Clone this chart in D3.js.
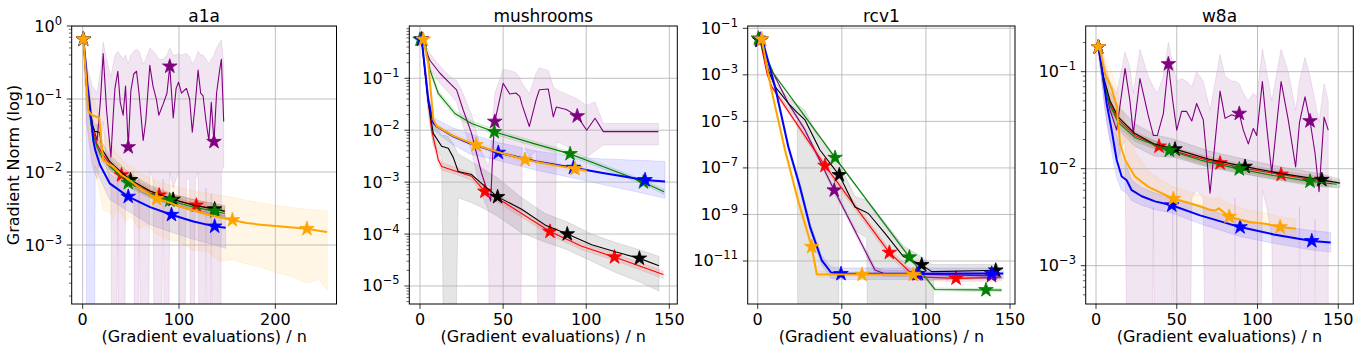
<!DOCTYPE html>
<html>
<head>
<meta charset="utf-8">
<script src="https://cdn.jsdelivr.net/npm/d3@7"></script>
<style>
  body { margin: 0; background: #fff; }
  svg { display: block; font-family: "DejaVu Sans", sans-serif; }
</style>
</head>
<body>
<script>
// rows are [x, mean, lower, upper]; series order: purple, red, black, green, blue, orange
const seriesKeys = ["purple", "red", "black", "green", "blue", "orange"];

// ---------- a1a ----------
const a1aXTicks = [0, 100, 200];
const a1aYTicks = [0, -1, -2, -3];
const a1aPurple = [
  [0.7, 0.66, 0.5, 0.75], [3.8, 0.15, 0.05, 0.3], [10, 0.045, 0.012, 0.15], [15, 0.027, 0.008, 0.12],
  [18.5, 0.098, 0.02, 0.25], [21.3, 0.42, 0.05, 0.6], [24.8, 0.07, 0.012, 0.35], [29.3, 0.016, 0.006, 0.2],
  [31.7, 0.06, 1e-9, 0.3], [33.5, 0.14, 1e-9, 0.4], [36.5, 0.24, 0.01, 0.45], [39, 0.09, 1e-9, 0.4],
  [42, 0.06, 1e-9, 0.35], [44.5, 0.15, 0.008, 0.4], [47.3, 0.022, 0.006, 0.3], [50, 0.13, 0.008, 0.4],
  [53, 0.22, 0.01, 0.45], [55.9, 0.24, 1e-9, 0.48], [58.5, 0.12, 0.008, 0.45], [62.8, 0.027, 1e-9, 0.3],
  [65.5, 0.05, 1e-9, 0.35], [69.7, 0.29, 0.01, 0.5], [73, 0.15, 0.008, 0.45], [76.6, 0.098, 1e-9, 0.4],
  [79, 0.06, 1e-9, 0.35], [83.5, 0.085, 0.008, 0.35], [87.5, 0.12, 1e-9, 0.4], [90.4, 0.28, 0.01, 0.5],
  [94, 0.055, 0.006, 0.4], [97, 0.14, 0.008, 0.4], [99.5, 0.17, 0.01, 0.42], [102.6, 0.12, 1e-9, 0.4],
  [107.7, 0.14, 0.008, 0.42], [111, 0.1, 0.008, 0.38], [113.8, 0.035, 1e-9, 0.3], [117, 0.09, 0.008, 0.35],
  [119.8, 0.25, 0.01, 0.45], [122.5, 0.12, 1e-9, 0.4], [125, 0.11, 1e-9, 0.4], [128, 0.05, 0.006, 0.35],
  [131, 0.027, 1e-9, 0.3], [133.5, 0.09, 0.005, 0.35], [136.3, 0.026, 1e-9, 0.4], [139, 0.12, 1e-9, 0.5],
  [142.2, 0.25, 1e-9, 0.6], [144, 0.35, 0.01, 0.65], [146.4, 0.049, 0.012, 0.3]
];
const a1aRed = [
  [0.7, 0.66, 0.6, 0.72], [5, 0.12, 0.1, 0.14], [10, 0.04, 0.034, 0.047], [15, 0.024, 0.02, 0.029],
  [20, 0.018, 0.015, 0.021], [28, 0.013, 0.011, 0.0155], [40.3, 0.0091, 0.0078, 0.0106], [60, 0.0062, 0.0053, 0.0072],
  [79.4, 0.0048, 0.0041, 0.0056], [100, 0.004, 0.0034, 0.0047], [118, 0.0035, 0.003, 0.0041], [147.5, 0.0029, 0.0025, 0.0034]
];
const a1aBlack = [
  [0.7, 0.66, 0.6, 0.72], [5, 0.13, 0.1, 0.16], [10, 0.045, 0.035, 0.055], [12.5, 0.036, 0.028, 0.045],
  [17.5, 0.035, 0.026, 0.044], [20.5, 0.02, 0.016, 0.025], [28, 0.014, 0.011, 0.017], [38, 0.0105, 0.0085, 0.013],
  [49.7, 0.0078, 0.0064, 0.0094], [70, 0.0055, 0.0046, 0.0066], [93.9, 0.0042, 0.0035, 0.005], [115, 0.0035, 0.0029, 0.0042],
  [137, 0.0031, 0.0026, 0.0037], [147.5, 0.0029, 0.0024, 0.0035]
];
const a1aGreen = [
  [0.7, 0.66, 0.6, 0.72], [5, 0.1, 0.085, 0.12], [10, 0.035, 0.03, 0.041], [15, 0.022, 0.019, 0.026],
  [20, 0.016, 0.014, 0.019], [28, 0.012, 0.0104, 0.014], [47.3, 0.0071, 0.0062, 0.0081], [70, 0.0051, 0.0044, 0.0058],
  [90.4, 0.0041, 0.0036, 0.0047], [115, 0.0033, 0.0029, 0.0038], [137, 0.0029, 0.0025, 0.0033], [147.5, 0.0027, 0.0024, 0.0031]
];
const a1aBlue = [
  [0.7, 0.66, 0.5, 0.8], [3.4, 0.28, 0.2, 0.36], [4.8, 0.16, 1e-9, 0.22], [6.8, 0.097, 1e-9, 0.13],
  [9, 0.05, 1e-9, 0.07], [11, 0.027, 1e-9, 0.04], [13, 0.02, 0.012, 0.028], [18, 0.0125, 0.008, 0.017],
  [28, 0.007, 0.0042, 0.0095], [47.3, 0.0046, 0.0029, 0.0063], [70, 0.0033, 0.0019, 0.0048], [92.2, 0.0026, 0.0015, 0.0039],
  [115, 0.0021, 0.0012, 0.0031], [137, 0.0018, 0.001, 0.0027], [148.5, 0.00173, 0.0009, 0.0025]
];
const a1aOrange = [
  [0.7, 0.66, 0.55, 0.75], [3, 0.25, 0.1, 0.4], [5.8, 0.07, 0.03, 0.2], [9.3, 0.06, 0.015, 0.11],
  [13, 0.058, 0.01, 0.09], [17.2, 0.055, 0.006, 0.06], [19.5, 0.025, 0.004, 0.045], [21.3, 0.0146, 0.003, 0.035],
  [28.3, 0.0125, 0.0028, 0.025], [31.7, 0.012, 0.0022, 0.022], [35, 0.0108, 0.0032, 0.018], [40.4, 0.0091, 0.0026, 0.015],
  [45, 0.0083, 0.0021, 0.013], [50, 0.0075, 0.0025, 0.012], [58, 0.0062, 0.0017, 0.01], [66, 0.0053, 0.0019, 0.0088],
  [76.7, 0.0043, 0.0014, 0.0076], [88, 0.0039, 0.0012, 0.0068], [100, 0.0034, 0.0011, 0.0062], [114.6, 0.003, 0.00085, 0.0056],
  [130, 0.0026, 0.0008, 0.0051], [142, 0.0024, 0.0006, 0.0048], [155.4, 0.0022, 0.00063, 0.0045], [170, 0.002, 0.00055, 0.0041],
  [185, 0.0019, 0.0005, 0.0038], [200, 0.00182, 0.00042, 0.0035], [215, 0.00175, 0.00038, 0.0033], [232.8, 0.00167, 0.0003, 0.0031],
  [245, 0.00157, 0.00034, 0.003], [253.8, 0.00151, 0.00024, 0.0029]
];
const a1aStars = [[0.7, 47.3, 90.4, 136.3], [0.7, 40.3, 79.4, 118], [0.7, 49.7, 93.9, 137],
                  [0.7, 47.3, 90.4, 137], [0.7, 47.3, 92.2, 137], [0.7, 76.7, 155.4, 232.8]];

// ---------- mushrooms ----------
const mushXTicks = [0, 50, 100, 150];
const mushYTicks = [-1, -2, -3, -4, -5];
const mushPurple = [
  [1, 0.56, 0.5, 0.62], [6, 0.22, 0.15, 0.3], [12, 0.125, 0.08, 0.17], [18, 0.08, 0.05, 0.11],
  [22, 0.06, 0.035, 0.09], [26, 0.0245, 0.012, 0.05], [31, 0.0087, 0.004, 0.02], [34, 0.0036, 0.0015, 0.009],
  [37, 0.0015, 0.0006, 0.004], [41, 0.0006, 0.0003, 0.002], [42.5, 0.00043, 1e-9, 0.004], [44, 0.005, 1e-9, 0.02],
  [45, 0.0147, 1e-9, 0.05], [50, 0.08, 1e-9, 0.15], [54, 0.05, 1e-9, 0.14], [57.7, 0.052, 1e-9, 0.13],
  [60, 0.045, 1e-9, 0.1], [61.5, 0.03, 0.006, 0.08], [65.8, 0.0118, 0.003, 0.05], [70, 0.04, 0.004, 0.13],
  [71.8, 0.06, 1e-9, 0.16], [77.2, 0.062, 1e-9, 0.14], [80.2, 0.018, 1e-9, 0.07], [82, 0.028, 0.006, 0.06],
  [88, 0.025, 0.005, 0.05], [94.6, 0.0187, 0.0035, 0.04], [100.3, 0.01, 0.003, 0.03], [105.3, 0.017, 0.004, 0.035],
  [110.3, 0.0094, 0.0052, 0.0135], [143.4, 0.0094, 0.0052, 0.0135]
];
const mushRed = [
  [1, 0.56, 0.5, 0.62], [4, 0.069, 0.055, 0.085], [7, 0.01, 0.008, 0.013], [11, 0.0027, 0.0022, 0.0033],
  [13, 0.002, 0.0017, 0.0024], [22, 0.0016, 0.0014, 0.0019], [31, 0.0013, 0.0011, 0.0015], [39, 0.00066, 0.00056, 0.00077],
  [51, 0.0004, 0.00034, 0.00047], [78.2, 0.000112, 9.5e-5, 0.00013], [97.3, 5.8e-5, 5e-5, 6.8e-5], [117, 3.6e-5, 3.1e-5, 4.2e-5],
  [146.4, 1.66e-5, 1.4e-5, 1.95e-5]
];
const mushBlack = [
  [1, 0.56, 0.5, 0.62], [5, 0.033, 0.02, 0.05], [8, 0.0087, 0.005, 0.014], [13, 0.0049, 0.003, 0.008],
  [15, 0.0047, 1e-9, 0.008], [17, 0.0045, 1e-9, 0.0075], [20, 0.003, 1e-9, 0.0055], [23, 0.0016, 0.0005, 0.0035],
  [31, 0.0014, 0.0004, 0.0025], [37, 0.00095, 0.00033, 0.0019], [46.7, 0.00052, 0.00022, 0.0012], [61.2, 0.0003, 0.000105, 0.0005],
  [75.2, 0.00015, 0.00007, 0.00025], [88.6, 0.0001, 0.00005, 0.00017], [103.3, 6.2e-5, 3e-5, 0.0001], [118, 4.5e-5, 1.8e-5, 6.8e-5],
  [132, 3.4e-5, 1.2e-5, 5e-5], [143.8, 2.45e-5, 8e-6, 3.7e-5]
];
const mushGreen = [
  [0, 0.56, 0.5, 0.62], [3, 0.5, 0.45, 0.56], [6, 0.145, 0.125, 0.165], [11, 0.051, 0.045, 0.058],
  [21, 0.021, 0.0185, 0.024], [31, 0.0135, 0.012, 0.0152], [44.7, 0.0093, 0.0083, 0.0104], [67, 0.0057, 0.0051, 0.0064],
  [90.3, 0.0035, 0.0031, 0.0039], [112, 0.0019, 0.0017, 0.0021], [134.4, 0.001, 0.0009, 0.0011], [146.8, 0.00065, 0.00058, 0.00073]
];
const mushBlue = [
  [1, 0.56, 0.5, 0.62], [5, 0.038, 0.03, 0.05], [8, 0.014, 0.011, 0.018], [10, 0.0118, 0.009, 0.016],
  [20, 0.0076, 0.0052, 0.011], [30, 0.0056, 0.0035, 0.0085], [47.1, 0.0037, 0.0026, 0.0058], [70, 0.0025, 0.0017, 0.004],
  [92.3, 0.0019, 0.0012, 0.0031], [110, 0.0015, 0.0009, 0.0028], [135.4, 0.0011, 0.0006, 0.0026], [147.4, 0.00103, 0.00049, 0.0025]
];
const mushOrange = [
  [2, 0.56, 0.5, 0.62], [5, 0.19, 0.16, 0.22], [8, 0.016, 0.014, 0.019], [10, 0.012, 0.0105, 0.0135],
  [20, 0.0078, 0.0069, 0.0088], [33.7, 0.0052, 0.0046, 0.0058], [47, 0.0038, 0.0034, 0.0043], [63.2, 0.0027, 0.0024, 0.003],
  [78, 0.0022, 0.0019, 0.0025], [93.3, 0.0018, 0.0016, 0.002], [100.3, 0.00166, 0.00148, 0.00186]
];
const mushStars = [[1, 45, 94.6], [1, 39, 78.2, 117], [1, 46.7, 88.6, 132],
                   [0, 44.7, 90.3, 134.4], [1, 47.1, 92.3, 135.4], [2, 33.7, 63.2, 93.3]];

// ---------- rcv1 ----------
const rcvXTicks = [0, 50, 100, 150];
const rcvYTicks = [-1, -3, -5, -7, -9, -11];
const rcvPurple = [
  [1, 0.032, 0.028, 0.037], [9, 1.26e-3, 1.1e-3, 1.45e-3], [18.2, 6e-5, 5e-5, 7.2e-5], [28.1, 4.3e-6, 3.5e-6, 5.2e-6],
  [45.5, 1.1e-8, 8.5e-9, 1.4e-8], [69.7, 4.1e-12, 3e-12, 5.5e-12], [74.7, 2.95e-12, 2.2e-12, 4e-12],
  [139, 2.3e-12, 1.7e-12, 3.2e-12], [144, 2.3e-12, 1.7e-12, 3.2e-12]
];
const rcvRed = [
  [1.5, 0.03, 0.026, 0.035], [5.4, 1.2e-3, 1e-3, 1.45e-3], [8.3, 3.1e-4, 2.6e-4, 3.7e-4], [40, 1.26e-7, 9e-8, 1.7e-7],
  [78.3, 2.3e-11, 1.6e-11, 3.2e-11], [93.5, 2.1e-12, 1.5e-12, 3e-12], [117.9, 1.8e-12, 1.3e-12, 2.6e-12], [145, 2e-12, 1.4e-12, 2.8e-12]
];
const rcvBlack = [
  [1.5, 0.03, 0.025, 0.036], [6.3, 1.6e-3, 1.2e-3, 2.2e-3], [10.3, 3.1e-4, 2.2e-4, 4.5e-4], [18.2, 6e-5, 3.5e-5, 1.1e-4],
  [23.5, 2.4e-5, 1.2e-5, 5e-5], [24, 2.2e-5, 1e-20, 5e-5], [28.1, 1.15e-5, 1e-20, 3e-5], [37, 5.9e-7, 1e-20, 1.6e-6],
  [47.5, 6e-8, 1e-20, 2e-7], [48.5, 5e-8, 5e-9, 1.5e-7], [57.8, 2.1e-9, 2e-10, 6e-9], [64.8, 1.2e-9, 1e-10, 4e-9],
  [65.8, 1.1e-9, 1e-20, 3.5e-9], [75.7, 1.55e-10, 1e-20, 4.5e-10], [86.6, 1.55e-11, 1e-20, 4.5e-11], [97.5, 6.8e-12, 1e-20, 1.5e-11],
  [103.4, 3.5e-12, 1e-20, 7e-12], [104.5, 3.5e-12, 1.6e-12, 7e-12], [143, 4e-12, 1.8e-12, 7e-12]
];
const rcvGreen = [
  [0.4, 0.037, 0.033, 0.042], [9.3, 1.17e-3, 1.05e-3, 1.3e-3], [46, 2.75e-7, 2.4e-7, 3.1e-7],
  [90.2, 1.45e-11, 1.25e-11, 1.7e-11], [105.4, 6e-13, 5.2e-13, 7e-13], [145, 5.6e-13, 4.8e-13, 6.5e-13]
];
const rcvBlue = [
  [2, 0.034, 0.028, 0.04], [3.3, 0.023, 0.019, 0.028], [10.3, 3.1e-4, 2.3e-4, 4.2e-4], [18.2, 8.1e-7, 5.5e-7, 1.2e-6],
  [25.1, 1.55e-8, 1e-8, 2.3e-8], [31.1, 2.95e-10, 2e-10, 4.5e-10], [38, 1.1e-11, 7e-12, 1.7e-11], [43.6, 3.2e-12, 1.8e-12, 5.5e-12],
  [49.5, 2.8e-12, 1.6e-12, 5e-12], [95.5, 2.8e-12, 1.6e-12, 5e-12], [139.1, 2.9e-12, 1.7e-12, 5e-12], [146, 2.9e-12, 1.7e-12, 5e-12]
];
const rcvOrange = [
  [2.4, 0.034, 0.028, 0.04], [8, 2.5e-4, 1.8e-4, 3.5e-4], [16.2, 6e-7, 4e-7, 9e-7], [24, 4e-9, 2.6e-9, 6e-9],
  [32.1, 4.1e-11, 2.7e-11, 6e-11], [35.1, 2.7e-12, 2e-12, 3.6e-12], [62, 2.6e-12, 2e-12, 3.4e-12], [97.5, 2.6e-12, 2e-12, 3.4e-12]
];
const rcvStars = [[1, 45.5, 94.5, 139], [1.5, 40, 78.3, 117.9], [1.5, 48.5, 97.5, 141.5],
                  [0.4, 46, 90.2, 135.7], [2, 49.5, 95.5, 139.1], [2.4, 32.1, 62, 92.5]];

// ---------- w8a ----------
const w8aXTicks = [0, 50, 100, 150];
const w8aYTicks = [-1, -2, -3];
const w8aPurple = [
  [1.5, 0.18, 0.15, 0.21], [5.6, 0.07, 0.04, 0.12], [8.7, 0.04, 0.02, 0.08], [12.8, 0.025, 0.012, 0.06],
  [18, 0.108, 0.02, 0.16], [21, 0.05, 1e-9, 0.11], [23.1, 0.023, 1e-9, 0.06], [27.2, 0.085, 1e-9, 0.17],
  [32.4, 0.035, 1e-9, 0.09], [35.5, 0.022, 0.004, 0.07], [38, 0.022, 1e-9, 0.06], [41.7, 0.037, 1e-9, 0.09],
  [44.8, 0.12, 1e-9, 0.2], [47.5, 0.05, 0.004, 0.12], [50, 0.025, 1e-9, 0.08], [53, 0.039, 1e-9, 0.085],
  [56, 0.039, 1e-9, 0.08], [59.3, 0.031, 0.005, 0.07], [62.3, 0.047, 0.006, 0.1], [66.4, 0.032, 0.005, 0.08],
  [70.6, 0.0056, 1e-9, 0.04], [76.8, 0.063, 1e-9, 0.15], [79.9, 0.033, 1e-9, 0.09], [84, 0.036, 1e-9, 0.08],
  [86, 0.035, 0.005, 0.08], [88.7, 0.037, 1e-9, 0.075], [91.2, 0.025, 1e-9, 0.06], [94.3, 0.018, 1e-9, 0.05],
  [97.4, 0.026, 1e-9, 0.06], [99.5, 0.022, 1e-9, 0.055], [103, 0.079, 0.006, 0.17], [105.7, 0.027, 0.004, 0.1],
  [108.8, 0.009, 0.002, 0.05], [114.6, 0.079, 1e-9, 0.17], [119, 0.032, 1e-9, 0.1], [123.6, 0.0104, 1e-9, 0.04],
  [126, 0.03, 0.004, 0.08], [129.4, 0.055, 1e-9, 0.14], [132.5, 0.031, 1e-9, 0.09], [135.6, 0.0145, 0.003, 0.05],
  [138.1, 0.0058, 1e-9, 0.03], [141.2, 0.034, 1e-9, 0.075], [143.8, 0.025, 1e-9, 0.05]
];
const w8aRed = [
  [1.5, 0.18, 0.165, 0.195], [4.5, 0.082, 0.075, 0.09], [8.7, 0.047, 0.043, 0.052], [13.8, 0.032, 0.029, 0.035],
  [24.1, 0.022, 0.02, 0.024], [39, 0.017, 0.0155, 0.0186], [57, 0.0138, 0.0126, 0.0151], [76.8, 0.0114, 0.0104, 0.0125],
  [95, 0.0099, 0.009, 0.0108], [114.6, 0.0087, 0.0079, 0.0095], [130, 0.0079, 0.0072, 0.0087], [146, 0.0073, 0.0066, 0.008]
];
const w8aBlack = [
  [1.5, 0.18, 0.16, 0.2], [4.5, 0.09, 0.07, 0.11], [8.7, 0.05, 0.038, 0.062], [13.8, 0.034, 0.025, 0.044],
  [24.1, 0.023, 0.017, 0.029], [36, 0.018, 0.0135, 0.0225], [48.9, 0.0159, 0.013, 0.02], [70, 0.0125, 0.0103, 0.0152],
  [92.3, 0.0105, 0.0088, 0.0125], [115, 0.0089, 0.0076, 0.0104], [139.8, 0.0077, 0.0066, 0.0088], [151, 0.0071, 0.0064, 0.0078]
];
const w8aGreen = [
  [1.5, 0.18, 0.165, 0.195], [4.5, 0.08, 0.073, 0.088], [8.7, 0.045, 0.041, 0.05], [13.8, 0.03, 0.027, 0.033],
  [24.1, 0.021, 0.019, 0.023], [45.4, 0.0154, 0.014, 0.0169], [66, 0.0121, 0.011, 0.0133], [88.7, 0.0099, 0.009, 0.0109],
  [110, 0.0085, 0.0077, 0.0094], [132.5, 0.0074, 0.0067, 0.0081], [149, 0.0069, 0.0063, 0.0076]
];
const w8aBlue = [
  [1.5, 0.18, 0.16, 0.2], [3.5, 0.113, 0.08, 0.15], [6.6, 0.047, 0.03, 0.07], [9.7, 0.025, 0.015, 0.04],
  [12.8, 0.0123, 0.008, 0.022], [15.9, 0.0083, 0.006, 0.013], [19, 0.0076, 0.0056, 0.0105], [22.1, 0.006, 0.0047, 0.0076],
  [28.3, 0.0052, 0.0042, 0.0064], [36.5, 0.0046, 0.0038, 0.0056], [46.9, 0.0042, 0.0035, 0.005], [64.4, 0.0033, 0.0027, 0.004],
  [89.2, 0.0025, 0.002, 0.003], [110, 0.0021, 0.0017, 0.0026], [133.6, 0.0018, 0.00145, 0.0023], [145.3, 0.00173, 0.00138, 0.0022]
];
const w8aOrange = [
  [1.4, 0.18, 0.16, 0.2], [2.5, 0.17, 0.14, 0.2], [5.6, 0.096, 0.07, 0.14], [9.7, 0.067, 0.04, 0.1],
  [12.8, 0.044, 0.022, 0.07], [14.9, 0.018, 0.011, 0.045], [18, 0.0123, 0.008, 0.03], [24.1, 0.0083, 0.006, 0.015],
  [32.4, 0.0065, 0.0049, 0.0095], [39.6, 0.0057, 0.0045, 0.0078], [47.9, 0.0049, 0.0039, 0.0065], [56, 0.0045, 0.0036, 0.006],
  [64.4, 0.0041, 0.0033, 0.0054], [70, 0.0038, 0.0031, 0.005], [73.7, 0.0037, 0.003, 0.0049], [76, 0.0039, 0.0031, 0.0051],
  [82.5, 0.0032, 0.0026, 0.0043], [95.4, 0.0028, 0.0023, 0.0037], [105, 0.0027, 0.0022, 0.0035], [114, 0.0025, 0.002, 0.0032],
  [123.8, 0.0024, 0.0019, 0.003]
];
const w8aStars = [[1.5, 44.8, 88.7, 132.5], [1.5, 39, 76.8, 114.6], [1.5, 48.9, 92.3, 139.8],
                  [1.5, 45.4, 88.7, 132.5], [1.5, 46.9, 89.2, 133.6], [1.4, 47.9, 82.5, 114]];

// ---------- layout ----------
const width = 1360, height = 352, plotTop = 26, plotBottom = 304;
const lineWidth = {purple: 1.1, red: 1.1, black: 1.1, green: 1.1, blue: 2, orange: 2};

const panels = [
  {title: "a1a", left: 71.7, right: 336.5, xDomain: [-11.4, 263.5], yDomain: [Math.pow(10, -3.808), 1],
   xTicks: a1aXTicks, yTicks: a1aYTicks, minor: true,
   series: [a1aPurple, a1aRed, a1aBlack, a1aGreen, a1aBlue, a1aOrange], stars: a1aStars},
  {title: "mushrooms", left: 409.3, right: 677.3, xDomain: [-6.44, 154.8], yDomain: [Math.pow(10, -5.347), Math.pow(10, 0.0071)],
   xTicks: mushXTicks, yTicks: mushYTicks, minor: true,
   series: [mushPurple, mushRed, mushBlack, mushGreen, mushBlue, mushOrange], stars: mushStars},
  {title: "rcv1", left: 747.7, right: 1015, xDomain: [-5.95, 152.96], yDomain: [Math.pow(10, -12.848), Math.pow(10, -0.901)],
   xTicks: rcvXTicks, yTicks: rcvYTicks, minor: false,
   series: [rcvPurple, rcvRed, rcvBlack, rcvGreen, rcvBlue, rcvOrange], stars: rcvStars},
  {title: "w8a", left: 1085.7, right: 1353.3, xDomain: [-6.38, 159.3], yDomain: [Math.pow(10, -3.395), Math.pow(10, -0.529)],
   xTicks: w8aXTicks, yTicks: w8aYTicks, minor: true,
   series: [w8aPurple, w8aRed, w8aBlack, w8aGreen, w8aBlue, w8aOrange], stars: w8aStars}
];

const svg = d3.select("body").append("svg")
    .attr("width", width)
    .attr("height", height);
const defs = svg.append("defs");

// mean value at x, interpolated in log space
function valueAt(rows, xv) {
    for (let i = 0; i < rows.length - 1; i++) {
        if (xv >= rows[i][0] && xv <= rows[i + 1][0]) {
            const t = (xv - rows[i][0]) / (rows[i + 1][0] - rows[i][0]);
            const a = Math.log10(rows[i][1]), b = Math.log10(rows[i + 1][1]);
            return Math.pow(10, a + t * (b - a));
        }
    }
    return xv < rows[0][0] ? rows[0][1] : rows[rows.length - 1][1];
}

function drawPanel(p, idx) {
    let x = d3.scaleLinear().domain(p.xDomain).range([p.left, p.right]);
    let y = d3.scaleLog().domain(p.yDomain).range([plotBottom, plotTop]);
    let g = svg.append("g");

    defs.append("clipPath").attr("id", "clip" + idx)
        .append("rect")
        .attr("x", p.left).attr("y", plotTop)
        .attr("width", p.right - p.left).attr("height", plotBottom - plotTop);
    let plot = g.append("g").attr("clip-path", "url(#clip" + idx + ")");

    // shaded bands
    let band = d3.area()
        .x(function (d) {return x(d[0]);})
        .y0(function (d) {return y(d[2]);})
        .y1(function (d) {return y(d[3]);});
    p.series.forEach(function (rows, i) {
        plot.append("path")
            .attr("d", band(rows))
            .attr("fill", seriesKeys[i]).attr("fill-opacity", 0.1)
            .attr("stroke", seriesKeys[i]).attr("stroke-opacity", 0.1).attr("stroke-width", 1);
    });

    // grid
    p.xTicks.forEach(function (t) {
        plot.append("line").attr("x1", x(t)).attr("x2", x(t)).attr("y1", plotTop).attr("y2", plotBottom)
            .attr("stroke", "#b0b0b0").attr("stroke-width", 0.8);
    });
    p.yTicks.forEach(function (e) {
        plot.append("line").attr("x1", p.left).attr("x2", p.right).attr("y1", y(Math.pow(10, e))).attr("y2", y(Math.pow(10, e)))
            .attr("stroke", "#b0b0b0").attr("stroke-width", 0.8);
    });

    // lines with star markers
    let line = d3.line()
        .x(function (d) {return x(d[0]);})
        .y(function (d) {return y(d[1]);});
    let star = d3.symbol().type(d3.symbolStar).size(66);
    p.series.forEach(function (rows, i) {
        const c = seriesKeys[i];
        plot.append("path")
            .attr("d", line(rows))
            .attr("fill", "none").attr("stroke", c)
            .attr("stroke-width", lineWidth[c]).attr("stroke-linejoin", "round");
        p.stars[i].forEach(function (sx) {
            plot.append("path")
                .attr("d", star())
                .attr("transform", "translate(" + x(sx) + "," + y(valueAt(rows, sx)) + ")")
                .attr("fill", c).attr("stroke", c).attr("stroke-width", 0.8);
        });
    });

    // frame
    g.append("rect")
        .attr("x", p.left).attr("y", plotTop)
        .attr("width", p.right - p.left).attr("height", plotBottom - plotTop)
        .attr("fill", "none").attr("stroke", "#000").attr("stroke-width", 1);

    // x ticks
    p.xTicks.forEach(function (t) {
        g.append("line").attr("x1", x(t)).attr("x2", x(t)).attr("y1", plotBottom).attr("y2", plotBottom + 4.9)
            .attr("stroke", "#000").attr("stroke-width", 0.8);
        g.append("text").attr("x", x(t)).attr("y", plotBottom + 21)
            .attr("text-anchor", "middle").attr("font-size", 16).text(t);
    });

    // y ticks (log)
    const lo = Math.floor(Math.log10(p.yDomain[0])), hi = Math.ceil(Math.log10(p.yDomain[1]));
    if (p.minor) {
        for (let e = lo; e <= hi; e++) {
            for (let k = 2; k <= 9; k++) {
                const v = k * Math.pow(10, e);
                if (v < p.yDomain[0] || v > p.yDomain[1]) continue;
                g.append("line").attr("x1", p.left - 2.8).attr("x2", p.left).attr("y1", y(v)).attr("y2", y(v))
                    .attr("stroke", "#000").attr("stroke-width", 0.6);
            }
        }
    }
    p.yTicks.forEach(function (e) {
        const ty = y(Math.pow(10, e));
        g.append("line").attr("x1", p.left - 4.9).attr("x2", p.left).attr("y1", ty).attr("y2", ty)
            .attr("stroke", "#000").attr("stroke-width", 0.8);
        let t = g.append("text").attr("x", p.left - 9.7).attr("y", ty + 5.5)
            .attr("text-anchor", "end").attr("font-size", 16);
        t.append("tspan").text("10");
        t.append("tspan").attr("dy", -7).attr("font-size", 11.5).text(e === 0 ? "0" : "\u2212" + (-e));
    });

    // title and x label
    g.append("text").attr("x", (p.left + p.right) / 2).attr("y", 21.5)
        .attr("text-anchor", "middle").attr("font-size", 17).text(p.title);
    g.append("text").attr("x", (p.left + p.right) / 2).attr("y", 342)
        .attr("text-anchor", "middle").attr("font-size", 16).text("(Gradient evaluations) / n");
    if (idx === 0) {
        g.append("text")
            .attr("transform", "translate(19," + ((plotTop + plotBottom) / 2) + ")rotate(-90)")
            .attr("text-anchor", "middle").attr("font-size", 16).text("Gradient Norm (log)");
    }
}

panels.forEach(drawPanel);
</script>
</body>
</html>
